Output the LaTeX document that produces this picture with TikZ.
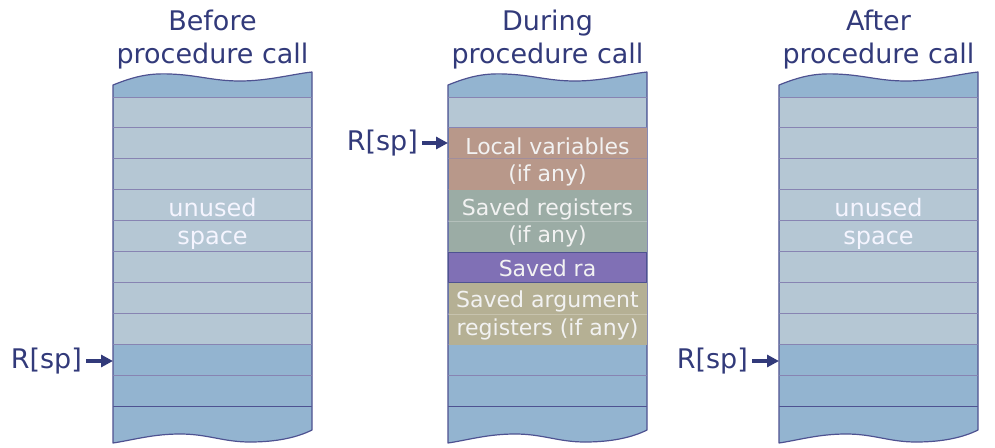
\documentclass[tikz,border=0pt]{standalone}
\usepackage{fontspec}
\setmainfont{DejaVu Sans}
\usetikzlibrary{arrows.meta, positioning}
\definecolor{stackblue}{RGB}{147, 180, 208}
\definecolor{unusedgray}{RGB}{181, 199, 212}
\definecolor{titleblue}{RGB}{50, 58, 122}
\definecolor{rowline}{RGB}{135, 132, 178}
\definecolor{edgeblue}{RGB}{78, 82, 145}
\definecolor{localbrown}{RGB}{184, 152, 138}
\definecolor{savedgreen}{RGB}{155, 172, 165}
\definecolor{rapurple}{RGB}{128, 112, 181}
\definecolor{argolive}{RGB}{181, 176, 148}

\begin{document}
\begin{tikzpicture}[x=1pt, y=-1pt, line cap=round, line join=round, >={Triangle[length=12pt, width=12pt]},
	title/.style={text=titleblue, align=center, font=\fontsize{27}{33}\selectfont},
	splabel/.style={text=titleblue, inner sep=0pt, font=\fontsize{27}{33}\selectfont},
	sparrow/.style={->, draw=titleblue, line width=4pt, line cap=butt, shorten <=4pt},
	block/.style={minimum width=198pt, inner sep=0pt},
	blocktext/.style={text=white!95!black, align=center, font=\fontsize{22}{27.5}\selectfont},
	spacetext/.style={text=white!96!blue, align=center, font=\fontsize{24}{28}\selectfont}]
	\useasboundingbox (0,0) rectangle (995,447);

	% three stacks: wavy frame, unused rows, row lines
	\foreach \c/\lo in {113/344.2, 448/128, 779/344.2}{
		\filldraw[fill=stackblue, draw=edgeblue, line width=1.2pt]
			(\c,85) .. controls (\c+20,77) and (\c+35,73) .. (\c+57,74)
			.. controls (\c+85,75) and (\c+100,81) .. (\c+127,81)
			.. controls (\c+155,81) and (\c+180,74) .. (\c+199,72)
			-- (\c+199,430)
			.. controls (\c+185,437) and (\c+165,442) .. (\c+137,442)
			.. controls (\c+110,442) and (\c+95,434) .. (\c+67,434)
			.. controls (\c+40,434) and (\c+20,440) .. (\c,443) -- cycle;
		\fill[unusedgray] (\c+0.6,97) rectangle (\c+198.4,\lo);
		\foreach \k in {0,...,9}
			\draw[rowline, line width=1pt] (\c+0.6,97+30.9*\k) -- (\c+198.4,97+30.9*\k);
		\draw[edgeblue, line width=1pt] (\c+0.6,406) -- (\c+198.4,406);
	}

	% titles
	\node[title] (before) at (212.5,39.5) {Before\\procedure call};
	\node[title] (during) at (547.5,39.5) {During\\procedure call};
	\node[title] (after) at (878.5,39.5) {After\\procedure call};

	% unused space
	\node[spacetext] (unusedbefore) at (212.5,224) {unused\\space};
	\node[spacetext] (unusedafter) at (878.5,224) {unused\\space};

	% frame of the called procedure
	\node[block, fill=localbrown, minimum height=61.8pt] (locvar) at (547.5,158.9) {};
	\node[block, fill=savedgreen, minimum height=61.8pt, below=0pt of locvar] (savreg) {};
	\node[block, fill=rapurple, draw=edgeblue, line width=1pt, minimum height=30pt, below=0pt of savreg] (savra) {};
	\node[block, fill=argolive, minimum height=61.8pt, below=0pt of savra] (savarg) {};
	\draw[rowline, opacity=0.45, line width=1pt] (locvar.west) -- (locvar.east);
	\draw[white, opacity=0.25, line width=1pt] (savreg.west) -- (savreg.east);
	\draw[white, opacity=0.25, line width=1pt] (savarg.west) -- (savarg.east);
	\node[blocktext] (locvartext) at ([yshift=-3pt]locvar.center) {Local variables\\(if any)};
	\node[blocktext] (savregtext) at ([yshift=-2pt]savreg.center) {Saved registers\\(if any)};
	\node[blocktext] (savratext) at ([yshift=-1pt]savra.center) {Saved ra};
	\node[blocktext] (savargtext) at ([yshift=-1pt]savarg.center) {Saved argument\\registers (if any)};

	% stack pointer
	\coordinate (tipbefore) at (113,361);
	\coordinate (tipduring) at (448,143);
	\coordinate (tipafter) at (779,361);
	\node[splabel, left=31pt of tipbefore] (spbefore) {R[sp]};
	\node[splabel, left=30pt of tipduring] (spduring) {R[sp]};
	\node[splabel, left=31pt of tipafter] (spafter) {R[sp]};
	\draw[sparrow] (spbefore) -- (tipbefore);
	\draw[sparrow] (spduring) -- (tipduring);
	\draw[sparrow] (spafter) -- (tipafter);
\end{tikzpicture}
\end{document}
